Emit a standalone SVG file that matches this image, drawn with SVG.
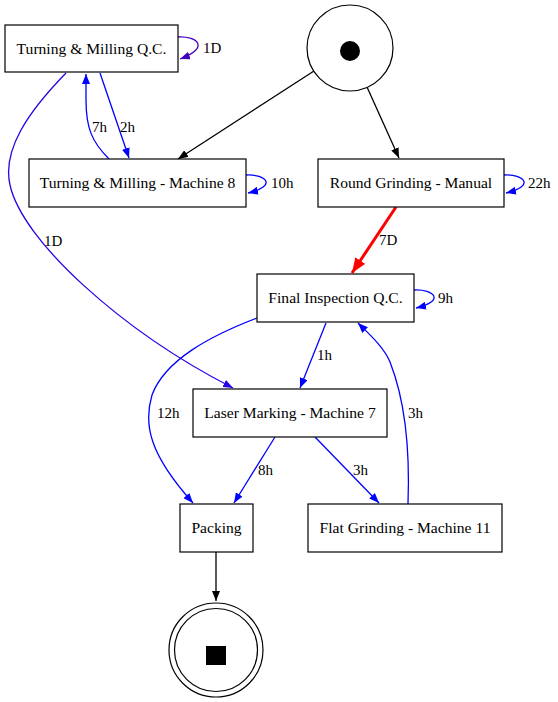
<svg xmlns="http://www.w3.org/2000/svg" width="558" height="702" viewBox="0 0 558 702">
<style>
text{font-family:"Liberation Serif","Times New Roman",serif;font-size:15px;fill:#000}
.n text{text-anchor:middle;font-size:15.6px}
.box{fill:#fff;stroke:#000;stroke-width:1.2}
.e{fill:none;stroke-width:1.3}
.k{stroke:#000}
.b{stroke:#0000ff}
.i{stroke:#2a00e6}
.p{stroke:#4400bb}
.r{stroke:#ff0000;stroke-width:3}
</style>
<defs>
<marker id="ak" markerUnits="userSpaceOnUse" markerWidth="10" markerHeight="8" refX="10" refY="4" orient="auto"><path d="M0,0 L10,4 L0,8 z" fill="#000"/></marker>
<marker id="ab" markerUnits="userSpaceOnUse" markerWidth="10" markerHeight="8" refX="10" refY="4" orient="auto"><path d="M0,0 L10,4 L0,8 z" fill="#0000ff"/></marker>
<marker id="ai" markerUnits="userSpaceOnUse" markerWidth="10" markerHeight="8" refX="10" refY="4" orient="auto"><path d="M0,0 L10,4 L0,8 z" fill="#2a00e6"/></marker>
<marker id="ap" markerUnits="userSpaceOnUse" markerWidth="10" markerHeight="8" refX="10" refY="4" orient="auto"><path d="M0,0 L10,4 L0,8 z" fill="#4400bb"/></marker>
<marker id="ar" markerUnits="userSpaceOnUse" markerWidth="15" markerHeight="12" refX="15" refY="6" orient="auto"><path d="M0,0 L15,6 L0,12 z" fill="#ff0000"/></marker>
</defs>
<rect width="558" height="702" fill="#fff"/>
<g id="edges">
<path class="e k" d="M314,71 L178,159" marker-end="url(#ak)"/>
<path class="e k" d="M367,87 L399,158" marker-end="url(#ak)"/>
<path class="e p" d="M178,37 C198,36 210,48 180,59" marker-end="url(#ap)"/>
<text x="203" y="53">1D</text>
<path class="e b" d="M100,73 L129,158" marker-end="url(#ab)"/>
<text x="120" y="132">2h</text>
<path class="e b" d="M109,159 C92,142 86,128 86,100 L86,74" marker-end="url(#ab)"/>
<text x="92" y="132">7h</text>
<path class="e b" d="M246,175 C266,174 278,186 248,193" marker-end="url(#ab)"/>
<text x="271" y="188">10h</text>
<path class="e i" d="M66,73 C28,112 2,150 10,185 C22,240 120,330 233,388" marker-end="url(#ai)"/>
<text x="44" y="246">1D</text>
<path class="e b" d="M504,175 C524,174 536,186 506,193" marker-end="url(#ab)"/>
<text x="528" y="188">22h</text>
<path class="e r" d="M396,207 L352,273" marker-end="url(#ar)"/>
<text x="379" y="245">7D</text>
<path class="e b" d="M414,290 C434,289 446,301 416,308" marker-end="url(#ab)"/>
<text x="438" y="303">9h</text>
<path class="e b" d="M326,323 L300,388" marker-end="url(#ab)"/>
<text x="317" y="360">1h</text>
<path class="e b" d="M257,318 C210,336 165,360 152,395 C143,425 150,455 193,503" marker-end="url(#ab)"/>
<text x="157" y="418">12h</text>
<path class="e b" d="M408,504 C410,450 405,400 390,362 C384,347 368,333 358,323" marker-end="url(#ab)"/>
<text x="408" y="418">3h</text>
<path class="e b" d="M275,437 L234,503" marker-end="url(#ab)"/>
<text x="258" y="475">8h</text>
<path class="e b" d="M315,437 L379,503" marker-end="url(#ab)"/>
<text x="353" y="475">3h</text>
<path class="e k" d="M216,552 L216,601" marker-end="url(#ak)"/>
</g>
<g id="start" class="n">
<circle cx="350" cy="48" r="43" fill="#fff" stroke="#000" stroke-width="1.2"/>
<circle cx="350" cy="51" r="10" fill="#000"/>
</g>
<g id="tm_qc" class="n">
<rect class="box" x="5" y="25" width="173" height="47"/>
<text x="91.5" y="54">Turning &amp; Milling Q.C.</text>
</g>
<g id="tm_m8" class="n">
<rect class="box" x="29" y="159" width="217" height="48"/>
<text x="137.5" y="188">Turning &amp; Milling - Machine 8</text>
</g>
<g id="rg_manual" class="n">
<rect class="box" x="318" y="159" width="186" height="48"/>
<text x="411" y="188">Round Grinding - Manual</text>
</g>
<g id="final_qc" class="n">
<rect class="box" x="257" y="274" width="157" height="48"/>
<text x="335.5" y="303">Final Inspection Q.C.</text>
</g>
<g id="laser_m7" class="n">
<rect class="box" x="193" y="389" width="194" height="48"/>
<text x="290" y="418">Laser Marking - Machine 7</text>
</g>
<g id="packing" class="n">
<rect class="box" x="180" y="504" width="73" height="48"/>
<text x="216.5" y="533">Packing</text>
</g>
<g id="flat_m11" class="n">
<rect class="box" x="308" y="504" width="194" height="48"/>
<text x="405" y="533">Flat Grinding - Machine 11</text>
</g>
<g id="end" class="n">
<circle cx="216" cy="650" r="47" fill="#fff" stroke="#000" stroke-width="1.2"/>
<circle cx="216" cy="650" r="41.5" fill="none" stroke="#000" stroke-width="1.2"/>
<rect x="206" y="646" width="20" height="19" fill="#000"/>
</g>
</svg>
